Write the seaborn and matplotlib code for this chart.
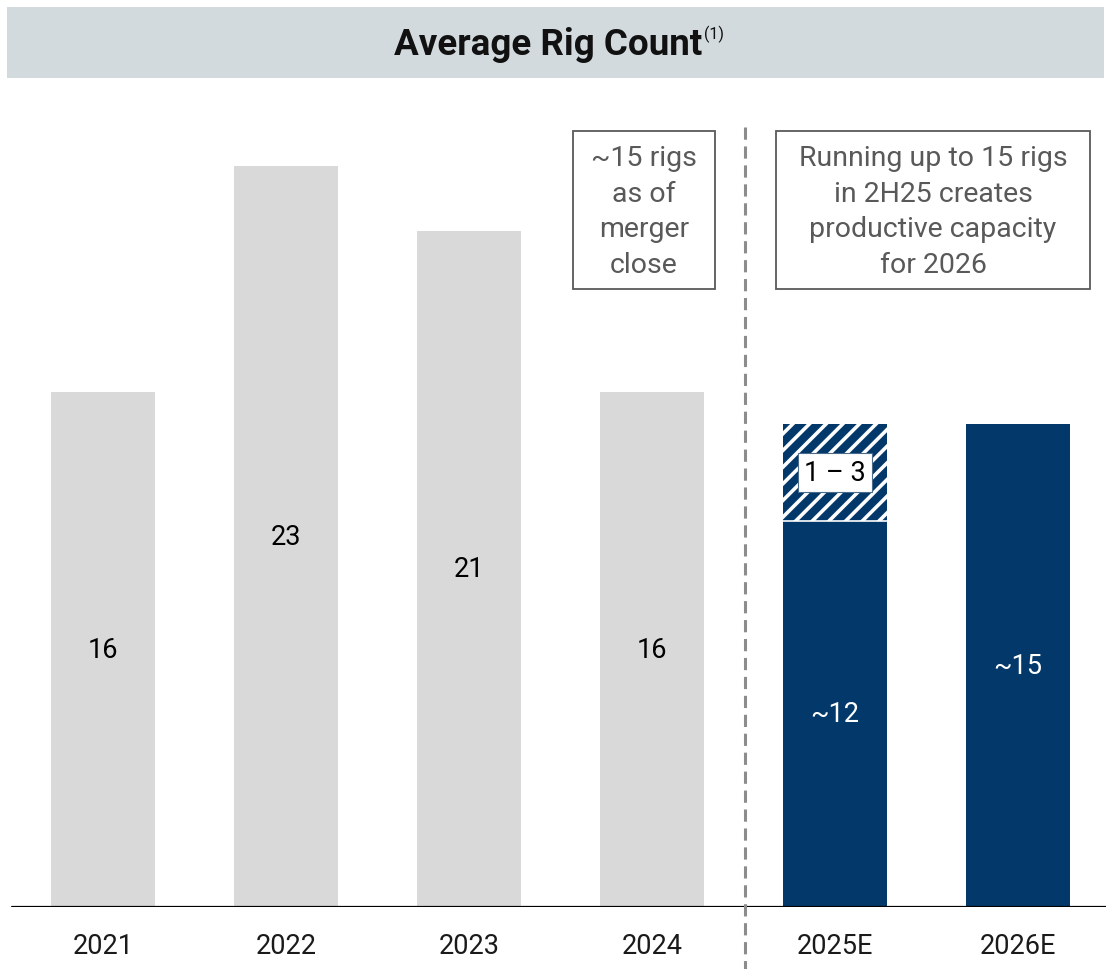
import matplotlib
matplotlib.use("Agg")
import matplotlib.pyplot as plt
import seaborn as sns
import pandas as pd
from matplotlib.patches import Rectangle
from matplotlib.lines import Line2D

# Chart data
years = ["2021", "2022", "2023", "2024", "2025E", "2026E"]
rig_counts = [16, 23, 21, 16, 12, 15]
value_labels = ["16", "23", "21", "16", "~12", "~15"]
incremental_low = 1
incremental_high = 3
note_left = "~15 rigs\nas of\nmerger\nclose"
note_right = "Running up to 15 rigs\nin 2H25 creates\nproductive capacity\nfor 2026"
title = "Average Rig Count"
title_note = "(1)"

GRAY = "#D9D9D9"
NAVY = "#02386A"
BANNER = "#D3DADD"
TEXT_GRAY = "#595959"

sns.set_theme(style="white")
plt.rcParams["font.family"] = ["Roboto", "DejaVu Sans"]
plt.rcParams["hatch.linewidth"] = 2.6

W, H = 1106, 970
fig = plt.figure(figsize=(W / 100, H / 100), dpi=100)

# axes covering the full width; baseline at 908 px from top
px_per_unit = 32.2
base_px = 908
top_px = 100
ax = fig.add_axes([0, (H - base_px) / H, 1, (base_px - top_px) / H])

df = pd.DataFrame({"year": years, "count": rig_counts})
colors = [GRAY, GRAY, GRAY, GRAY, NAVY, NAVY]
sns.barplot(data=df, x="year", y="count", hue="year", palette=colors,
            width=0.563, saturation=1, legend=False, ax=ax, linewidth=0)

# hatched incremental range on top of 2025E
ax.bar(4, incremental_high, bottom=rig_counts[4], width=0.563,
       facecolor=NAVY, edgecolor="white", hatch="//", linewidth=0)
ax.plot([4 - 0.2815, 4 + 0.2815], [rig_counts[4], rig_counts[4]],
        color="white", lw=1.2, zorder=5)

x0 = -103 / 183
x1 = (W - 103) / 183
ax.set_xlim(x0, x1)
ax.set_ylim(0, (base_px - top_px) / px_per_unit)

for s in ax.spines.values():
    s.set_visible(False)
ax.set_yticks([])
ax.set_ylabel("")
ax.set_xlabel("")
ax.tick_params(axis="x", length=0, pad=18, labelsize=19.5, labelcolor="#1a1a1a")
ax.axhline(0, xmin=12 / W, xmax=1, color="black", lw=1.6, zorder=6)

# value labels at bar mid-heights
for i, (v, lab) in enumerate(zip(rig_counts, value_labels)):
    col = "white" if i >= 4 else "black"
    ax.text(i, v / 2, lab, ha="center", va="center", fontsize=19.5, color=col)

ax.text(4, rig_counts[4] + incremental_high / 2,
        f"{incremental_low} \u2013 {incremental_high}",
        ha="center", va="center", fontsize=19.5, color="black", zorder=7,
        bbox=dict(boxstyle="square,pad=0.22", facecolor="white",
                  edgecolor="#4a6a8a", linewidth=0.8))

# note boxes
def fx(px):
    return px / W

def fy(py):
    return (H - py) / H

for (l, r), txt in [((573, 715), note_left), ((776, 1090), note_right)]:
    fig.patches.append(Rectangle((fx(l), fy(290)), fx(r) - fx(l), fy(132) - fy(290),
                                 transform=fig.transFigure, facecolor="white",
                                 edgecolor="#595959", linewidth=1.3, zorder=3))
    fig.text(fx((l + r) / 2), fy(212), txt, ha="center", va="center",
             fontsize=20.5, color=TEXT_GRAY, linespacing=1.4, zorder=4)

# dashed separator
fig.lines.append(Line2D([fx(745), fx(745)], [fy(128), 0], transform=fig.transFigure,
                        color="#8C8C8C", lw=2.2, linestyle=(0, (4, 2.2))))

# title banner
fig.patches.append(Rectangle((fx(7), fy(79)), fx(1104) - fx(7), fy(8) - fy(79),
                             transform=fig.transFigure, facecolor=BANNER,
                             edgecolor="none", zorder=1))
t = fig.text(fx(548), fy(45), title, ha="center", va="center",
             fontsize=26.5, fontweight="bold", color="#111111", zorder=2)
fig.canvas.draw()
bb = t.get_window_extent()
fig.text(bb.x1 / W + 0.002, fy(34), title_note, ha="left", va="center",
         fontsize=11.5, color="#111111", zorder=2)

fig.savefig("out.png", dpi=100)
